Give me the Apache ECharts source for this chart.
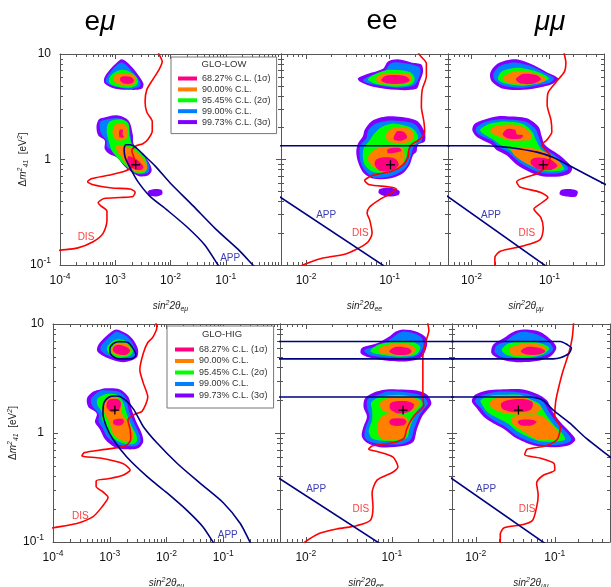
<!DOCTYPE html>
<html>
<head>
<meta charset="utf-8">
<script src="https://cdn.jsdelivr.net/npm/echarts@6/dist/echarts.min.js"></script>
<style>
  html, body { margin: 0; padding: 0; background: #fff; }
  #chart { width: 611px; height: 587px; }
</style>
</head>
<body>
<div id="chart"></div>
<script>
// all coordinates are log10(sin^2 2theta), log10(dm^2 / eV^2)

const LEVEL_NAMES = ['99.73% C.L. (3σ)', '99.00% C.L.', '95.45% C.L. (2σ)', '90.00% C.L.', '68.27% C.L. (1σ)'];
const LEGEND_ORDER = ['68.27% C.L. (1σ)', '90.00% C.L.', '95.45% C.L. (2σ)', '99.00% C.L.', '99.73% C.L. (3σ)'];

// ---- e mu, GLO-LOW ----
const emuLowPurple = [
  [[-2.88,0.95],[-2.76,0.91],[-2.61,0.82],[-2.49,0.72],[-2.52,0.67],[-2.73,0.66],[-3.00,0.67],[-3.19,0.72],[-3.20,0.77],[-3.10,0.85],[-2.97,0.92]],
  [[-3.26,0.39],[-2.97,0.42],[-2.76,0.37],[-2.68,0.23],[-2.67,0.15],[-2.55,0.07],[-2.40,-0.02],[-2.34,-0.10],[-2.40,-0.15],[-2.55,-0.16],[-2.67,-0.13],[-2.82,-0.07],[-2.97,0.02],[-3.10,0.05],[-3.19,0.10],[-3.19,0.18],[-3.31,0.23],[-3.34,0.31],[-3.31,0.37]],
  [[-2.41,-0.30],[-2.28,-0.28],[-2.16,-0.29],[-2.15,-0.33],[-2.26,-0.35],[-2.39,-0.34]]
];
const emuLowBlue = [
  [[-2.88,0.92],[-2.77,0.88],[-2.64,0.80],[-2.54,0.72],[-2.56,0.69],[-2.73,0.67],[-3.00,0.69],[-3.16,0.73],[-3.16,0.77],[-3.07,0.84],[-2.96,0.90]],
  [[-3.27,0.36],[-2.97,0.39],[-2.79,0.35],[-2.72,0.21],[-2.70,0.13],[-2.53,0.04],[-2.39,-0.05],[-2.40,-0.12],[-2.55,-0.14],[-2.70,-0.10],[-2.86,-0.02],[-3.02,0.07],[-3.15,0.12],[-3.16,0.18],[-3.26,0.25],[-3.28,0.31]]
];
const emuLowGreen = [
  [[-2.88,0.85],[-2.73,0.83],[-2.60,0.77],[-2.60,0.71],[-2.73,0.68],[-2.95,0.69],[-3.10,0.72],[-3.10,0.78],[-3.00,0.83]],
  [[-3.10,0.36],[-2.88,0.38],[-2.76,0.34],[-2.74,0.22],[-2.70,0.15],[-2.48,0.04],[-2.42,-0.07],[-2.46,-0.12],[-2.61,-0.13],[-2.77,-0.08],[-2.93,0.00],[-3.06,0.08],[-3.11,0.16],[-3.15,0.24],[-3.15,0.31]]
];
const emuLowOrange = [
  [[-2.84,0.82],[-2.70,0.81],[-2.62,0.76],[-2.68,0.71],[-2.84,0.70],[-3.00,0.73],[-3.04,0.77],[-2.97,0.81]],
  [[-3.00,0.33],[-2.86,0.34],[-2.78,0.30],[-2.78,0.21],[-2.88,0.18],[-3.00,0.19],[-3.05,0.26]],
  [[-2.95,0.14],[-2.73,0.11],[-2.55,0.04],[-2.43,-0.05],[-2.44,-0.10],[-2.61,-0.12],[-2.79,-0.05],[-2.91,0.04],[-2.99,0.11]]
];
const emuLowPink = [
  [[-2.82,0.79],[-2.71,0.78],[-2.66,0.75],[-2.71,0.72],[-2.84,0.72],[-2.91,0.75],[-2.90,0.78]],
  [[-2.92,0.28],[-2.86,0.28],[-2.87,0.24],[-2.84,0.21],[-2.92,0.21],[-2.93,0.24]],
  [[-2.76,0.03],[-2.61,0.00],[-2.49,-0.07],[-2.55,-0.10],[-2.70,-0.08],[-2.78,-0.03]]
];
const emuLowDis = [[-4.10,-0.87],[-4.00,-0.86],[-3.69,-0.84],[-3.40,-0.78],[-3.22,-0.70],[-3.15,-0.58],[-3.15,-0.49],[-3.26,-0.44],[-3.31,-0.41],[-3.20,-0.37],[-2.91,-0.36],[-2.68,-0.35],[-2.64,-0.31],[-2.73,-0.28],[-3.06,-0.27],[-3.40,-0.24],[-3.50,-0.21],[-3.42,-0.18],[-3.13,-0.15],[-2.82,-0.11],[-2.68,-0.06],[-2.66,0.01],[-2.70,0.08],[-2.62,0.13],[-2.50,0.15],[-2.41,0.19],[-2.33,0.27],[-2.33,0.36],[-2.43,0.45],[-2.46,0.55],[-2.43,0.66],[-2.33,0.75],[-2.21,0.85],[-2.15,0.93],[-2.21,1.00],[-2.23,1.03]];
const emuLowApp = [
  [[-0.91,-1.19],[-1.14,-1.00],[-1.38,-0.81],[-1.70,-0.64],[-2.06,-0.48],[-2.37,-0.35],[-2.59,-0.21],[-2.73,-0.08],[-2.82,0.02],[-2.84,0.10],[-2.81,0.14],[-2.73,0.14],[-2.62,0.11],[-2.46,0.03],[-2.28,-0.06],[-2.01,-0.22],[-1.59,-0.44],[-1.18,-0.66],[-0.78,-0.85],[-0.51,-1.00],[-0.24,-1.15]]
];
const emuLowBest = [[-2.63,-0.05]];
const emuLowLabelPos = [[-3.53,-0.74],[-0.92,-0.94]];
const emuLowLabelText = ['DIS', 'APP'];

// ---- e e, GLO-LOW ----
const eeLowPurple = [
  [[-0.90,0.95],[-0.74,0.92],[-0.62,0.90],[-0.60,0.83],[-0.64,0.74],[-0.68,0.67],[-0.92,0.66],[-1.20,0.69],[-1.36,0.74],[-1.38,0.77],[-1.27,0.81],[-1.08,0.86],[-1.02,0.93]],
  [[-0.96,0.41],[-0.68,0.37],[-0.58,0.26],[-0.58,0.17],[-0.66,0.14],[-0.68,0.07],[-0.72,0.04],[-0.76,-0.05],[-0.84,-0.13],[-1.00,-0.18],[-1.20,-0.18],[-1.32,-0.12],[-1.38,-0.02],[-1.40,0.07],[-1.38,0.15],[-1.32,0.22],[-1.30,0.28],[-1.22,0.36],[-1.10,0.40]],
  [[-1.12,-0.28],[-0.97,-0.27],[-0.88,-0.30],[-0.90,-0.34],[-1.04,-0.35],[-1.13,-0.32]]
];
const eeLowBlue = [
  [[-0.89,0.92],[-0.65,0.88],[-0.63,0.83],[-0.67,0.74],[-0.72,0.70],[-0.92,0.68],[-1.19,0.71],[-1.32,0.75],[-1.24,0.79],[-1.06,0.84],[-0.99,0.91]],
  [[-0.96,0.37],[-0.71,0.34],[-0.62,0.24],[-0.62,0.17],[-0.71,0.12],[-0.75,0.02],[-0.80,-0.07],[-0.88,-0.12],[-1.00,-0.16],[-1.19,-0.17],[-1.30,-0.10],[-1.35,-0.02],[-1.36,0.06],[-1.35,0.14],[-1.28,0.20],[-1.26,0.27],[-1.19,0.33],[-1.08,0.36]]
];
const eeLowGreen = [
  [[-1.00,0.85],[-0.76,0.83],[-0.70,0.77],[-0.74,0.71],[-0.94,0.69],[-1.18,0.72],[-1.26,0.76],[-1.17,0.81]],
  [[-0.94,0.34],[-0.74,0.30],[-0.66,0.22],[-0.69,0.15],[-0.76,0.13],[-0.80,0.02],[-0.86,-0.06],[-1.00,-0.12],[-1.19,-0.12],[-1.29,-0.06],[-1.32,0.02],[-1.31,0.11],[-1.24,0.18],[-1.19,0.24],[-1.09,0.31]]
];
const eeLowOrange = [
  [[-0.94,0.82],[-0.77,0.81],[-0.73,0.76],[-0.79,0.72],[-0.96,0.71],[-1.14,0.73],[-1.16,0.77],[-1.09,0.81]],
  [[-0.88,0.31],[-0.74,0.28],[-0.71,0.21],[-0.78,0.16],[-0.97,0.16],[-1.04,0.20],[-1.02,0.27]],
  [[-1.09,0.12],[-0.85,0.11],[-0.82,0.03],[-0.86,-0.06],[-1.00,-0.10],[-1.18,-0.08],[-1.26,0.00],[-1.22,0.07]]
];
const eeLowPink = [
  [[-0.97,0.80],[-0.81,0.79],[-0.76,0.75],[-0.84,0.72],[-1.02,0.72],[-1.10,0.75],[-1.06,0.79]],
  [[-0.90,0.27],[-0.83,0.26],[-0.79,0.21],[-0.85,0.18],[-0.95,0.19],[-0.93,0.25]],
  [[-1.02,0.10],[-0.88,0.11],[-0.86,0.08],[-1.02,0.06]],
  [[-1.09,0.02],[-0.94,0.01],[-0.89,-0.05],[-0.96,-0.10],[-1.11,-0.11],[-1.18,-0.05],[-1.16,0.00]]
];
const eeLowDis = [[-2.13,-1.04],[-2.04,-1.00],[-1.83,-0.94],[-1.51,-0.89],[-1.27,-0.79],[-1.21,-0.70],[-1.24,-0.57],[-1.27,-0.51],[-1.24,-0.45],[-1.12,-0.38],[-0.96,-0.31],[-0.92,-0.28],[-1.00,-0.26],[-1.24,-0.24],[-1.30,-0.20],[-1.20,-0.15],[-0.97,-0.11],[-0.84,-0.05],[-0.78,0.02],[-0.77,0.09],[-0.74,0.14],[-0.64,0.19],[-0.58,0.26],[-0.59,0.36],[-0.62,0.50],[-0.61,0.66],[-0.56,0.79],[-0.56,0.91],[-0.64,0.99],[-0.66,1.02]];
const eeLowApp = [
  [[-2.40,0.13],[-0.20,0.13]],
  [[-2.40,-0.31],[-0.95,-1.07]]
];
const eeLowBest = [[-0.99,-0.05]];
const eeLowLabelPos = [[-1.76,-0.53],[-1.35,-0.70]];
const eeLowLabelText = ['APP', 'DIS'];

// ---- mu mu, GLO-LOW ----
const mumuLowPurple = [
  [[-1.42,0.95],[-1.25,0.91],[-1.04,0.83],[-0.89,0.77],[-0.95,0.72],[-1.08,0.69],[-1.34,0.66],[-1.59,0.67],[-1.74,0.74],[-1.76,0.82],[-1.68,0.90],[-1.55,0.94]],
  [[-1.55,0.41],[-1.29,0.39],[-1.14,0.31],[-1.10,0.22],[-1.06,0.14],[-0.93,0.07],[-0.82,0.01],[-0.71,-0.08],[-0.74,-0.13],[-0.87,-0.16],[-1.08,-0.16],[-1.25,-0.12],[-1.42,-0.05],[-1.55,0.04],[-1.68,0.09],[-1.74,0.14],[-1.85,0.18],[-1.94,0.22],[-1.99,0.28],[-1.96,0.34],[-1.83,0.38],[-1.66,0.41]],
  [[-0.85,-0.29],[-0.74,-0.28],[-0.64,-0.30],[-0.66,-0.35],[-0.79,-0.35],[-0.87,-0.33]]
];
const mumuLowBlue = [
  [[-1.43,0.92],[-1.26,0.89],[-1.06,0.82],[-0.94,0.77],[-0.99,0.73],[-1.11,0.71],[-1.34,0.68],[-1.58,0.70],[-1.70,0.75],[-1.72,0.81],[-1.65,0.88],[-1.54,0.91]],
  [[-1.54,0.38],[-1.31,0.36],[-1.18,0.29],[-1.13,0.20],[-1.08,0.11],[-0.95,0.05],[-0.85,-0.01],[-0.76,-0.09],[-0.88,-0.13],[-1.08,-0.13],[-1.24,-0.09],[-1.40,-0.02],[-1.53,0.07],[-1.66,0.12],[-1.72,0.17],[-1.84,0.21],[-1.94,0.26],[-1.93,0.31],[-1.81,0.36],[-1.66,0.38]]
];
const mumuLowGreen = [
  [[-1.38,0.87],[-1.15,0.83],[-1.01,0.77],[-1.11,0.73],[-1.34,0.70],[-1.57,0.72],[-1.66,0.76],[-1.62,0.83],[-1.51,0.86]],
  [[-1.57,0.36],[-1.35,0.34],[-1.23,0.27],[-1.17,0.18],[-1.11,0.10],[-0.98,0.03],[-0.88,-0.02],[-0.81,-0.09],[-0.90,-0.11],[-1.07,-0.11],[-1.23,-0.06],[-1.38,0.00],[-1.51,0.09],[-1.63,0.14],[-1.72,0.19],[-1.84,0.24],[-1.89,0.28],[-1.80,0.33],[-1.69,0.35]]
];
const mumuLowOrange = [
  [[-1.35,0.84],[-1.16,0.81],[-1.04,0.76],[-1.15,0.72],[-1.35,0.71],[-1.54,0.73],[-1.60,0.77],[-1.51,0.82]],
  [[-1.57,0.33],[-1.38,0.32],[-1.25,0.26],[-1.24,0.19],[-1.35,0.18],[-1.51,0.18],[-1.66,0.22],[-1.76,0.26],[-1.71,0.31]],
  [[-1.38,0.12],[-1.12,0.09],[-0.95,0.03],[-0.84,-0.06],[-0.92,-0.09],[-1.12,-0.09],[-1.31,-0.03],[-1.45,0.04],[-1.48,0.10]]
];
const mumuLowPink = [
  [[-1.34,0.81],[-1.17,0.80],[-1.11,0.76],[-1.20,0.72],[-1.37,0.72],[-1.43,0.76]],
  [[-1.54,0.29],[-1.44,0.28],[-1.42,0.24],[-1.34,0.23],[-1.37,0.20],[-1.53,0.20],[-1.60,0.24]],
  [[-1.15,0.02],[-0.99,0.00],[-0.90,-0.06],[-0.98,-0.10],[-1.15,-0.09],[-1.24,-0.04],[-1.23,0.00]]
];
const mumuLowDis = [[-1.70,-1.05],[-1.70,-0.93],[-1.63,-0.87],[-1.34,-0.82],[-1.12,-0.76],[-1.08,-0.65],[-1.11,-0.55],[-1.20,-0.47],[-1.10,-0.41],[-1.02,-0.36],[-1.12,-0.31],[-1.38,-0.26],[-1.42,-0.21],[-1.35,-0.18],[-1.15,-0.13],[-1.02,-0.05],[-0.99,0.03],[-1.06,0.10],[-1.10,0.14],[-1.04,0.18],[-0.97,0.26],[-0.98,0.37],[-1.03,0.52],[-1.02,0.63],[-0.92,0.73],[-0.81,0.83],[-0.79,0.92],[-0.81,1.00],[-0.82,1.03]];
const mumuLowApp = [
  [[-2.40,0.13],[-1.89,0.13],[-1.60,0.12],[-1.38,0.10],[-1.16,0.07],[-0.95,0.02],[-0.74,-0.06],[-0.51,-0.15],[-0.30,-0.23],[-0.16,-0.28]],
  [[-2.40,-0.30],[-0.95,-1.06]]
];
const mumuLowBest = [[-1.08,-0.05]];
const mumuLowLabelPos = [[-1.75,-0.53],[-1.29,-0.70]];
const mumuLowLabelText = ['APP', 'DIS'];

// ---- e mu, GLO-HIG ----
const emuHigPurple = [
  [[-2.88,0.95],[-2.70,0.91],[-2.58,0.85],[-2.50,0.76],[-2.53,0.69],[-2.76,0.65],[-3.05,0.69],[-3.22,0.75],[-3.20,0.81],[-3.08,0.88],[-2.97,0.93]],
  [[-3.05,0.41],[-2.82,0.40],[-2.67,0.33],[-2.61,0.21],[-2.53,0.10],[-2.44,0.00],[-2.41,-0.08],[-2.50,-0.14],[-2.70,-0.15],[-2.91,-0.13],[-3.08,-0.06],[-3.17,0.03],[-3.26,0.10],[-3.23,0.18],[-3.38,0.24],[-3.40,0.32],[-3.29,0.38],[-3.17,0.40]]
];
const emuHigBlue = [
  [[-2.87,0.93],[-2.71,0.89],[-2.62,0.84],[-2.55,0.76],[-2.57,0.70],[-2.77,0.68],[-3.03,0.71],[-3.16,0.76],[-3.15,0.80],[-3.05,0.86],[-2.94,0.91]],
  [[-3.05,0.39],[-2.85,0.38],[-2.72,0.32],[-2.66,0.20],[-2.57,0.09],[-2.48,-0.01],[-2.46,-0.08],[-2.54,-0.12],[-2.70,-0.12],[-2.88,-0.10],[-3.04,-0.04],[-3.12,0.04],[-3.20,0.11],[-3.19,0.17],[-3.31,0.25],[-3.33,0.31],[-3.25,0.36],[-3.15,0.39]]
];
const emuHigGreen = [
  [[-2.87,0.86],[-2.70,0.84],[-2.59,0.76],[-2.64,0.71],[-2.82,0.69],[-3.00,0.72],[-3.05,0.78],[-2.98,0.83]],
  [[-3.03,0.36],[-2.87,0.35],[-2.77,0.29],[-2.71,0.19],[-2.63,0.08],[-2.54,-0.01],[-2.52,-0.07],[-2.59,-0.10],[-2.71,-0.10],[-2.87,-0.07],[-3.00,-0.02],[-3.07,0.06],[-3.14,0.13],[-3.14,0.19],[-3.22,0.26],[-3.22,0.31],[-3.15,0.34]]
];
const emuHigOrange = [
  [[-2.84,0.83],[-2.70,0.82],[-2.63,0.76],[-2.68,0.72],[-2.82,0.71],[-2.96,0.74],[-2.94,0.80]],
  [[-3.03,0.33],[-2.87,0.32],[-2.80,0.27],[-2.78,0.18],[-2.68,0.10],[-2.59,0.01],[-2.59,-0.06],[-2.71,-0.08],[-2.85,-0.05],[-2.96,0.01],[-3.00,0.09],[-3.07,0.16],[-3.12,0.23],[-3.10,0.29]]
];
const emuHigPink = [
  [[-2.85,0.81],[-2.71,0.79],[-2.64,0.76],[-2.70,0.72],[-2.84,0.72],[-2.94,0.75],[-2.93,0.79]],
  [[-3.00,0.31],[-2.85,0.31],[-2.80,0.27],[-2.84,0.21],[-2.96,0.19],[-3.05,0.23],[-3.05,0.28]],
  [[-2.93,0.12],[-2.78,0.13],[-2.75,0.10],[-2.80,0.07],[-2.93,0.08]]
];
const emuHigDis = [[-4.10,-0.88],[-4.00,-0.87],[-3.58,-0.83],[-3.30,-0.77],[-3.14,-0.68],[-3.03,-0.59],[-3.12,-0.54],[-3.24,-0.49],[-3.24,-0.44],[-3.03,-0.42],[-2.78,-0.39],[-2.64,-0.34],[-2.77,-0.28],[-3.17,-0.23],[-3.49,-0.21],[-3.45,-0.18],[-3.08,-0.15],[-2.73,-0.12],[-2.63,-0.06],[-2.64,0.03],[-2.68,0.12],[-2.57,0.17],[-2.43,0.20],[-2.33,0.33],[-2.41,0.46],[-2.47,0.58],[-2.41,0.73],[-2.33,0.83],[-2.24,0.88],[-2.17,0.97],[-2.20,1.03]];
const emuHigApp = [
  [[-2.85,0.84],[-2.68,0.83],[-2.57,0.76],[-2.54,0.71],[-2.64,0.68],[-2.85,0.68],[-2.98,0.72],[-3.00,0.77],[-2.94,0.82],[-2.85,0.84]],
  [[-1.02,-1.12],[-1.18,-1.00],[-1.36,-0.86],[-1.64,-0.71],[-1.99,-0.55],[-2.34,-0.40],[-2.70,-0.22],[-2.94,-0.06],[-3.06,0.06],[-3.12,0.18],[-3.10,0.28],[-3.01,0.33],[-2.91,0.34],[-2.80,0.33],[-2.68,0.28],[-2.57,0.21],[-2.41,0.06],[-2.17,-0.09],[-1.81,-0.28],[-1.41,-0.46],[-1.00,-0.64],[-0.70,-0.83],[-0.53,-1.00],[-0.41,-1.12]]
];
const emuHigBest = [[-2.91,0.21]];
const emuHigLabelPos = [[-3.52,-0.76],[-0.92,-0.94]];
const emuHigLabelText = ['DIS', 'APP'];

// ---- e e, GLO-HIG ----
const eeHigPurple = [
  [[-0.87,0.95],[-0.71,0.93],[-0.61,0.88],[-0.59,0.81],[-0.65,0.70],[-0.79,0.66],[-1.02,0.66],[-1.25,0.69],[-1.36,0.73],[-1.35,0.78],[-1.18,0.82],[-1.04,0.88],[-0.96,0.93]],
  [[-0.94,0.40],[-0.71,0.39],[-0.59,0.35],[-0.54,0.27],[-0.59,0.21],[-0.65,0.15],[-0.71,0.03],[-0.75,-0.08],[-0.87,-0.12],[-1.14,-0.13],[-1.29,-0.09],[-1.35,-0.03],[-1.33,0.06],[-1.29,0.15],[-1.33,0.24],[-1.31,0.32],[-1.18,0.38],[-1.06,0.40]]
];
const eeHigBlue = [
  [[-0.88,0.93],[-0.73,0.91],[-0.65,0.87],[-0.63,0.80],[-0.69,0.72],[-0.80,0.69],[-1.02,0.69],[-1.24,0.71],[-1.32,0.75],[-1.30,0.77],[-1.16,0.80],[-1.02,0.86],[-0.95,0.90]],
  [[-0.94,0.38],[-0.73,0.36],[-0.63,0.33],[-0.58,0.27],[-0.63,0.22],[-0.68,0.16],[-0.74,0.04],[-0.78,-0.06],[-0.88,-0.10],[-1.14,-0.10],[-1.28,-0.07],[-1.32,-0.03],[-1.30,0.06],[-1.26,0.15],[-1.29,0.24],[-1.28,0.31],[-1.16,0.35],[-1.06,0.38]]
];
const eeHigGreen = [
  [[-0.96,0.84],[-0.77,0.84],[-0.67,0.79],[-0.72,0.72],[-0.91,0.70],[-1.14,0.72],[-1.25,0.75],[-1.16,0.81]],
  [[-0.93,0.35],[-0.74,0.33],[-0.66,0.30],[-0.64,0.26],[-0.70,0.21],[-0.74,0.15],[-0.79,0.05],[-0.82,-0.04],[-0.91,-0.07],[-1.11,-0.07],[-1.23,-0.05],[-1.27,0.02],[-1.23,0.12],[-1.23,0.21],[-1.24,0.28],[-1.14,0.33]]
];
const eeHigOrange = [
  [[-0.96,0.82],[-0.79,0.81],[-0.72,0.77],[-0.77,0.72],[-0.96,0.72],[-1.14,0.73],[-1.15,0.77],[-1.08,0.80]],
  [[-0.96,0.33],[-0.75,0.32],[-0.67,0.28],[-0.74,0.21],[-0.91,0.18],[-1.10,0.20],[-1.14,0.27],[-1.08,0.31]],
  [[-1.08,0.17],[-0.87,0.16],[-0.79,0.08],[-0.84,-0.02],[-0.93,-0.06],[-1.10,-0.06],[-1.17,0.01],[-1.16,0.10]]
];
const eeHigPink = [
  [[-0.96,0.79],[-0.81,0.78],[-0.77,0.75],[-0.82,0.72],[-0.97,0.72],[-1.03,0.75]],
  [[-0.97,0.29],[-0.81,0.29],[-0.74,0.26],[-0.79,0.20],[-0.93,0.18],[-1.02,0.22],[-1.02,0.27]],
  [[-1.00,0.13],[-0.86,0.13],[-0.83,0.10],[-0.87,0.07],[-1.00,0.07],[-1.03,0.10]]
];
const eeHigDis = [[-2.07,-1.05],[-2.01,-1.00],[-1.84,-0.92],[-1.64,-0.88],[-1.41,-0.85],[-1.25,-0.80],[-1.22,-0.68],[-1.23,-0.55],[-1.17,-0.43],[-0.99,-0.36],[-0.93,-0.31],[-0.99,-0.22],[-1.17,-0.17],[-1.27,-0.15],[-1.23,-0.12],[-0.99,-0.09],[-0.86,-0.05],[-0.83,0.03],[-0.79,0.10],[-0.73,0.17],[-0.63,0.25],[-0.64,0.34],[-0.64,0.49],[-0.64,0.70],[-0.60,0.85],[-0.57,0.94],[-0.59,1.03]];
const eeHigApp = [
  [[-2.40,0.84],[-0.20,0.84]],
  [[-2.40,0.68],[-0.20,0.68]],
  [[-2.40,0.33],[-0.20,0.33]],
  [[-2.40,-0.37],[-1.05,-1.06]]
];
const eeHigBest = [[-0.87,0.21]];
const eeHigLabelPos = [[-1.88,-0.52],[-1.36,-0.70]];
const eeHigLabelText = ['APP', 'DIS'];

// ---- mu mu, GLO-HIG ----
const mumuHigPurple = [
  [[-1.40,0.95],[-1.19,0.93],[-1.04,0.85],[-0.98,0.78],[-1.06,0.70],[-1.23,0.66],[-1.48,0.65],[-1.69,0.68],[-1.80,0.73],[-1.78,0.81],[-1.65,0.87],[-1.52,0.93]],
  [[-1.69,0.40],[-1.40,0.40],[-1.23,0.36],[-1.10,0.30],[-1.04,0.21],[-0.93,0.10],[-0.81,0.01],[-0.74,-0.06],[-0.81,-0.11],[-0.98,-0.13],[-1.23,-0.12],[-1.48,-0.05],[-1.65,0.04],[-1.78,0.09],[-1.90,0.15],[-1.99,0.23],[-2.05,0.29],[-2.01,0.35],[-1.86,0.39]]
];
const mumuHigBlue = [
  [[-1.40,0.93],[-1.21,0.90],[-1.08,0.84],[-1.02,0.77],[-1.09,0.72],[-1.24,0.69],[-1.48,0.68],[-1.68,0.70],[-1.76,0.74],[-1.74,0.80],[-1.63,0.84],[-1.52,0.90]],
  [[-1.69,0.38],[-1.41,0.37],[-1.26,0.34],[-1.14,0.28],[-1.07,0.19],[-0.97,0.09],[-0.84,0.00],[-0.79,-0.06],[-0.84,-0.09],[-0.98,-0.11],[-1.22,-0.10],[-1.47,-0.03],[-1.63,0.06],[-1.76,0.11],[-1.87,0.17],[-1.95,0.24],[-2.01,0.29],[-1.97,0.33],[-1.85,0.36]]
];
const mumuHigGreen = [
  [[-1.42,0.84],[-1.21,0.83],[-1.07,0.78],[-1.15,0.72],[-1.38,0.69],[-1.59,0.71],[-1.67,0.76],[-1.59,0.82]],
  [[-1.67,0.35],[-1.44,0.35],[-1.31,0.31],[-1.20,0.27],[-1.12,0.18],[-1.02,0.08],[-0.91,0.00],[-0.87,-0.06],[-1.00,-0.08],[-1.21,-0.07],[-1.44,0.00],[-1.60,0.09],[-1.73,0.14],[-1.85,0.19],[-1.92,0.26],[-1.94,0.30],[-1.83,0.34]]
];
const mumuHigOrange = [
  [[-1.38,0.82],[-1.19,0.81],[-1.10,0.77],[-1.19,0.72],[-1.38,0.71],[-1.54,0.72],[-1.58,0.77],[-1.50,0.80]],
  [[-1.63,0.33],[-1.41,0.33],[-1.28,0.29],[-1.17,0.23],[-1.25,0.18],[-1.50,0.17],[-1.72,0.20],[-1.83,0.26],[-1.78,0.31]],
  [[-1.44,0.16],[-1.21,0.17],[-1.11,0.13],[-1.00,0.05],[-0.93,-0.03],[-1.02,-0.06],[-1.21,-0.06],[-1.39,0.01],[-1.53,0.08],[-1.54,0.14]]
];
const mumuHigPink = [
  [[-1.35,0.79],[-1.19,0.78],[-1.12,0.75],[-1.20,0.72],[-1.36,0.72],[-1.43,0.75]],
  [[-1.60,0.30],[-1.38,0.31],[-1.28,0.28],[-1.31,0.21],[-1.50,0.19],[-1.66,0.22],[-1.68,0.27]],
  [[-1.44,0.12],[-1.28,0.12],[-1.23,0.10],[-1.29,0.07],[-1.43,0.07],[-1.47,0.10]]
];
const mumuHigDis = [[-1.69,-1.05],[-1.69,-0.93],[-1.64,-0.87],[-1.40,-0.84],[-1.28,-0.80],[-1.23,-0.68],[-1.21,-0.57],[-1.23,-0.46],[-1.15,-0.39],[-1.00,-0.34],[-1.01,-0.28],[-1.19,-0.23],[-1.38,-0.20],[-1.35,-0.15],[-1.12,-0.12],[-0.97,-0.06],[-0.93,0.05],[-1.00,0.16],[-0.99,0.28],[-0.96,0.39],[-0.90,0.56],[-0.82,0.74],[-0.78,0.87],[-0.76,1.03]];
const mumuHigApp = [
  [[-2.40,0.84],[-0.93,0.84],[-0.84,0.81],[-0.79,0.78],[-0.82,0.73],[-0.93,0.69],[-1.02,0.68],[-2.40,0.68]],
  [[-2.40,0.33],[-1.31,0.33],[-1.15,0.30],[-1.02,0.21],[-0.81,0.09],[-0.60,-0.05],[-0.30,-0.22],[-0.20,-0.28]],
  [[-2.40,-0.37],[-1.03,-1.06]]
];
const mumuHigBest = [[-1.46,0.21]];
const mumuHigLabelPos = [[-1.87,-0.52],[-1.35,-0.70]];
const mumuHigLabelText = ['APP', 'DIS'];

// tick positions (decades) and axis ranges
const X_WIDE = [Math.log10(1e-4), Math.log10(1)];
const X_NARROW = [Math.log10(0.005), Math.log10(0.5)];
const Y_RANGE = [Math.log10(0.1), Math.log10(10)];
const X_WIDE_LABELS = [-4, -3, -2, -1];
const X_NARROW_LABELS = [-2, -1];
const Y_LABELS = [-1, 0, 1];
const MANTISSAS = [2, 3, 4, 5, 6, 7, 8, 9];

// ---- styling ----
const FONT = "'Liberation Sans', Arial, sans-serif";
const FRAME = '#555';
const LEVEL_COLORS = ['#8000ff', '#0080ff', '#00ff00', '#ff8000', '#ff0080'];
const DIS_COLOR = '#ff0000';
const APP_COLOR = '#000080';
const TEXT_COLOR = { DIS: '#ff4040', APP: '#3d3db5' };

const panels = [
  { grid: { left: 60, top: 54, width: 221, height: 211 }, x: X_WIDE, xLabels: X_WIDE_LABELS, yName: true, sub: 'eμ', nameGap: 35, yGap: 30,
    fills: [emuLowPurple, emuLowBlue, emuLowGreen, emuLowOrange, emuLowPink], dis: emuLowDis, app: emuLowApp, best: emuLowBest, lpos: emuLowLabelPos, ltext: emuLowLabelText },
  { grid: { left: 281, top: 54, width: 167, height: 211 }, x: X_NARROW, xLabels: X_NARROW_LABELS, sub: 'ee', nameGap: 35,
    fills: [eeLowPurple, eeLowBlue, eeLowGreen, eeLowOrange, eeLowPink], dis: eeLowDis, app: eeLowApp, best: eeLowBest, lpos: eeLowLabelPos, ltext: eeLowLabelText },
  { grid: { left: 448, top: 54, width: 156, height: 211 }, x: X_NARROW, xLabels: X_NARROW_LABELS, sub: 'μμ', nameGap: 35,
    fills: [mumuLowPurple, mumuLowBlue, mumuLowGreen, mumuLowOrange, mumuLowPink], dis: mumuLowDis, app: mumuLowApp, best: mumuLowBest, lpos: mumuLowLabelPos, ltext: mumuLowLabelText },
  { grid: { left: 53, top: 324, width: 227, height: 218 }, x: X_WIDE, xLabels: X_WIDE_LABELS, yName: true, sub: 'eμ', nameGap: 35, yGap: 33,
    fills: [emuHigPurple, emuHigBlue, emuHigGreen, emuHigOrange, emuHigPink], dis: emuHigDis, app: emuHigApp, best: emuHigBest, lpos: emuHigLabelPos, ltext: emuHigLabelText },
  { grid: { left: 280, top: 324, width: 172, height: 218 }, x: X_NARROW, xLabels: X_NARROW_LABELS, sub: 'ee', nameGap: 35,
    fills: [eeHigPurple, eeHigBlue, eeHigGreen, eeHigOrange, eeHigPink], dis: eeHigDis, app: eeHigApp, best: eeHigBest, lpos: eeHigLabelPos, ltext: eeHigLabelText },
  { grid: { left: 452, top: 324, width: 158, height: 218 }, x: X_NARROW, xLabels: X_NARROW_LABELS, sub: 'μμ', nameGap: 35,
    fills: [mumuHigPurple, mumuHigBlue, mumuHigGreen, mumuHigOrange, mumuHigPink], dis: mumuHigDis, app: mumuHigApp, best: mumuHigBest, lpos: mumuHigLabelPos, ltext: mumuHigLabelText }
];

function majorTicks(r) {
  const out = [];
  for (let d = Math.ceil(r[0] - 1e-9); d <= r[1] + 1e-9; d++) out.push(d);
  return out;
}
function minorTicks(r) {
  const out = [];
  for (let d = Math.floor(r[0]); d < r[1]; d++) {
    MANTISSAS.forEach(m => {
      const v = d + Math.log10(m);
      if (v > r[0] + 1e-6 && v < r[1] - 1e-6) out.push(v);
    });
  }
  return out;
}
function powLabel(v) {
  const r = Math.round(v);
  if (r === 0) return '{n|1}';
  if (r === 1) return '{n|10}';
  return '{n|10}{e|' + r + '}';
}
const tickRich = {
  n: { fontSize: 12, fontFamily: FONT, color: '#111' },
  e: { fontSize: 8.5, fontFamily: FONT, color: '#111', padding: [0, 0, 9, 0] }
};
const nameRich = {
  i: { fontSize: 10, fontStyle: 'italic', fontFamily: FONT, color: '#222' },
  r: { fontSize: 10, fontFamily: FONT, color: '#222' },
  s: { fontSize: 7, fontStyle: 'italic', fontFamily: FONT, color: '#222', padding: [0, 0, 6, 0] },
  b: { fontSize: 7, fontStyle: 'italic', fontFamily: FONT, color: '#222', padding: [5, 0, 0, 0] }
};

const grids = [], xAxes = [], yAxes = [], series = [];

panels.forEach((p, g) => {
  grids.push(Object.assign({ containLabel: false, outerBoundsMode: 'none' }, p.grid));
  const xMaj = majorTicks(p.x), xMin = minorTicks(p.x);
  const yMaj = majorTicks(Y_RANGE), yMin = minorTicks(Y_RANGE);
  const lineOn = { show: true, onZero: false, lineStyle: { color: FRAME, width: 1 } };
  const lineOff = { show: false, onZero: false };
  const tick = (vals, len) => ({ show: true, inside: true, length: len, customValues: vals, lineStyle: { color: FRAME, width: 1 } });
  const bx = { type: 'value', gridIndex: g, min: p.x[0], max: p.x[1], splitLine: { show: false } };
  const by = { type: 'value', gridIndex: g, min: Y_RANGE[0], max: Y_RANGE[1], splitLine: { show: false } };

  xAxes.push(Object.assign({}, bx, {
    position: 'bottom', axisLine: lineOn, axisTick: tick(xMaj, 5),
    axisLabel: { customValues: p.xLabels, formatter: powLabel, rich: tickRich, margin: 7 },
    name: '{i|sin}{s|2}{i|2θ}{b|' + p.sub + '}', nameLocation: 'middle', nameGap: p.nameGap, nameMoveOverlap: false,
    nameTextStyle: { rich: nameRich }
  }));
  xAxes.push(Object.assign({}, bx, { position: 'bottom', axisLine: lineOff, axisTick: tick(xMin, 3), axisLabel: { show: false } }));
  xAxes.push(Object.assign({}, bx, { position: 'top', axisLine: lineOn, axisTick: tick(xMaj, 5), axisLabel: { show: false } }));
  xAxes.push(Object.assign({}, bx, { position: 'top', axisLine: lineOff, axisTick: tick(xMin, 3), axisLabel: { show: false } }));

  const left = Object.assign({}, by, {
    position: 'left', axisLine: lineOn, axisTick: tick(yMaj, 5),
    axisLabel: p.yName ? { customValues: Y_LABELS, formatter: powLabel, rich: tickRich, margin: 9 } : { show: false }
  });
  if (p.yName) {
    Object.assign(left, {
      name: '{r|Δ}{i|m}{s|2}{b|41}{r|  [eV}{s|2}{r|]}', nameLocation: 'middle', nameGap: p.yGap, nameRotate: 90,
      nameMoveOverlap: false, nameTextStyle: { rich: nameRich }
    });
  }
  yAxes.push(left);
  yAxes.push(Object.assign({}, by, { position: 'left', axisLine: lineOff, axisTick: tick(yMin, 3), axisLabel: { show: false } }));
  yAxes.push(Object.assign({}, by, { position: 'right', axisLine: lineOn, axisTick: tick(yMaj, 5), axisLabel: { show: false } }));
  yAxes.push(Object.assign({}, by, { position: 'right', axisLine: lineOff, axisTick: tick(yMin, 3), axisLabel: { show: false } }));

  const ax = { xAxisIndex: g * 4, yAxisIndex: g * 4 };

  // filled confidence regions, outermost level first
  p.fills.forEach((polys, lv) => {
    series.push(Object.assign({
      type: 'custom', name: LEVEL_NAMES[lv], clip: true, silent: true, z: 2,
      itemStyle: { color: LEVEL_COLORS[lv] },
      data: polys.map(poly => poly[0]),
      renderItem: (params, api) => ({
        type: 'polygon',
        shape: { points: polys[params.dataIndex].map(pt => api.coord(pt)), smooth: 0.3 },
        style: { fill: LEVEL_COLORS[lv] }
      })
    }, ax));
  });

  // DIS curve
  series.push(Object.assign({
    type: 'line', data: p.dis, symbol: 'none', smooth: 0.25, clip: true, silent: true, z: 3,
    lineStyle: { color: DIS_COLOR, width: 1.6 }
  }, ax));

  // APP curves
  p.app.forEach(curve => {
    series.push(Object.assign({
      type: 'line', data: curve, symbol: 'none', smooth: 0.25, clip: true, silent: true, z: 3,
      lineStyle: { color: APP_COLOR, width: 1.6 }
    }, ax));
  });

  // best fit cross
  series.push(Object.assign({
    type: 'custom', silent: true, z: 4, data: p.best,
    renderItem: (params, api) => {
      const c = api.coord([api.value(0), api.value(1)]);
      const st = { stroke: '#000', lineWidth: 1.3 };
      return { type: 'group', children: [
        { type: 'line', shape: { x1: c[0] - 4.5, y1: c[1], x2: c[0] + 4.5, y2: c[1] }, style: st },
        { type: 'line', shape: { x1: c[0], y1: c[1] - 4.5, x2: c[0], y2: c[1] + 4.5 }, style: st }
      ] };
    }
  }, ax));

  // DIS / APP labels
  series.push(Object.assign({
    type: 'custom', silent: true, z: 4, data: p.lpos,
    renderItem: (params, api) => {
      const c = api.coord([api.value(0), api.value(1)]);
      const t = p.ltext[params.dataIndex];
      return { type: 'text', x: c[0], y: c[1],
        style: { text: t, fill: TEXT_COLOR[t], font: '10px ' + FONT, align: 'center', verticalAlign: 'middle' } };
    }
  }, ax));
});

const legendBase = {
  data: LEGEND_ORDER, orient: 'vertical', icon: 'rect', itemWidth: 19, itemHeight: 4,
  backgroundColor: '#fff', borderColor: '#777', borderWidth: 1, selectedMode: false,
  textStyle: { fontSize: 9, lineHeight: 9, color: '#333', fontFamily: FONT }
};

const titleStyle = {
  fontWeight: 'normal',
  rich: {
    a: { fontSize: 28, fontWeight: 'normal', fontFamily: FONT, color: '#000' },
    m: { fontSize: 28, fontWeight: 'normal', fontFamily: FONT, fontStyle: 'italic', color: '#000' }
  }
};

const chart = echarts.init(document.getElementById('chart'), null, { renderer: 'canvas' });
chart.setOption({
  animation: false,
  backgroundColor: '#fff',
  textStyle: { fontFamily: FONT },
  title: [
    { text: '{a|e}{m|μ}', left: 100, top: 22, textAlign: 'center', textVerticalAlign: 'middle', padding: 0, textStyle: titleStyle },
    { text: '{a|ee}', left: 382, top: 21, textAlign: 'center', textVerticalAlign: 'middle', padding: 0, textStyle: titleStyle },
    { text: '{m|μμ}', left: 550, top: 22, textAlign: 'center', textVerticalAlign: 'middle', padding: 0, textStyle: titleStyle },
    { text: 'GLO-LOW', left: 224, top: 64, textAlign: 'center', textVerticalAlign: 'middle', padding: 0, z: 10,
      textStyle: { fontSize: 9.5, fontWeight: 'normal', color: '#333', fontFamily: FONT } },
    { text: 'GLO-HIG', left: 222, top: 334, textAlign: 'center', textVerticalAlign: 'middle', padding: 0, z: 10,
      textStyle: { fontSize: 9.5, fontWeight: 'normal', color: '#333', fontFamily: FONT } }
  ],
  legend: [
    Object.assign({}, legendBase, { left: 171, top: 57, itemGap: 1.9, padding: [17, 6, 7, 7] }),
    Object.assign({}, legendBase, { left: 167, top: 326, itemGap: 2.5, padding: [19, 6, 8, 8] })
  ],
  grid: grids,
  xAxis: xAxes,
  yAxis: yAxes,
  series: series
});
</script>
</body>
</html>
